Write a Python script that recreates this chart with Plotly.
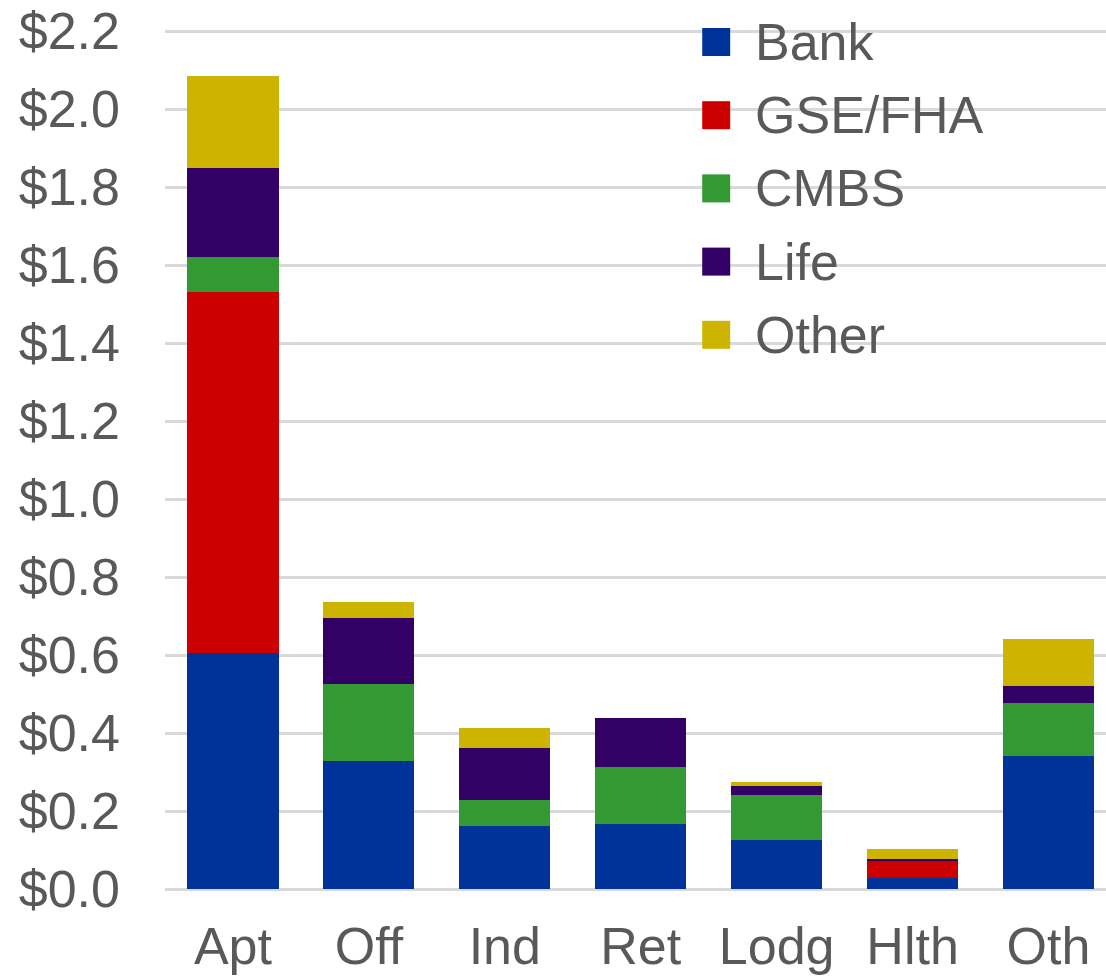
import plotly.graph_objects as go

categories = ["Apt", "Off", "Ind", "Ret", "Lodg", "Hlth", "Oth"]
bank = [0.606, 0.328, 0.162, 0.167, 0.126, 0.029, 0.342]
gse_fha = [0.926, 0.0, 0.0, 0.0, 0.0, 0.044, 0.0]
cmbs = [0.089, 0.198, 0.066, 0.145, 0.115, 0.0, 0.135]
life = [0.228, 0.168, 0.134, 0.127, 0.024, 0.003, 0.043]
other = [0.236, 0.043, 0.052, 0.0, 0.010, 0.027, 0.121]

series_names = ["Bank", "GSE/FHA", "CMBS", "Life", "Other"]
series_values = [bank, gse_fha, cmbs, life, other]
series_colors = ["#003399", "#CC0000", "#339933", "#330066", "#CCB400"]

tick_vals = [0.0, 0.2, 0.4, 0.6, 0.8, 1.0, 1.2, 1.4, 1.6, 1.8, 2.0, 2.2]
tick_text = ["$%.1f" % v for v in tick_vals]

FONT = "Liberation Sans, Arial, sans-serif"
TEXT_COLOR = "#595959"

fig = go.Figure()
for name, vals, col in zip(series_names, series_values, series_colors):
    fig.add_trace(go.Bar(x=categories, y=vals, name=name, marker_color=col,
                         marker_line_width=0, showlegend=False))

# body margin removed via post_script, so figure coords = page coords
W, H = 1106, 980
ml, mr, mt, mb = 164.5, 0, 30, 91
pw, ph = W - ml - mr, H - mt - mb
def px_x(x):
    return (x - ml) / pw
def px_y(y):
    return 1 - (y - mt) / ph

# custom legend (large square swatches)
for i, (name, col) in enumerate(zip(series_names, series_colors)):
    cy = 42 + i * 73.2
    fig.add_shape(type="rect", xref="paper", yref="paper",
                  x0=px_x(702), x1=px_x(730), y0=px_y(cy + 14), y1=px_y(cy - 14),
                  fillcolor=col, line_width=0, layer="above")
    fig.add_annotation(xref="paper", yref="paper", x=px_x(753), y=px_y(cy),
                       text=name, showarrow=False, xanchor="left", yanchor="middle",
                       font=dict(family=FONT, size=52, color=TEXT_COLOR))

fig.update_layout(
    width=W, height=H,
    margin=dict(l=ml, r=mr, t=mt, b=mb),
    barmode="stack",
    bargap=0.33,
    plot_bgcolor="white", paper_bgcolor="white",
    font=dict(family=FONT, size=52, color=TEXT_COLOR),
    xaxis=dict(range=[-0.5, 6.423], showgrid=False, showline=False, zeroline=False,
               ticks="", ticklabelstandoff=22,
               tickfont=dict(family=FONT, size=52, color=TEXT_COLOR)),
    yaxis=dict(range=[0, 2.203], tickvals=tick_vals, ticktext=tick_text,
               showgrid=True, gridcolor="#D9D9D9", gridwidth=3,
               zeroline=True, zerolinecolor="#D9D9D9", zerolinewidth=3,
               showline=False, ticks="", ticklabelstandoff=44,
               ticklabeloverflow="allow",
               tickfont=dict(family=FONT, size=52, color=TEXT_COLOR)),
)

fig.write_html("out.html", config={"displayModeBar": False},
               post_script="document.body.style.margin='0';document.body.style.overflow='hidden';")
